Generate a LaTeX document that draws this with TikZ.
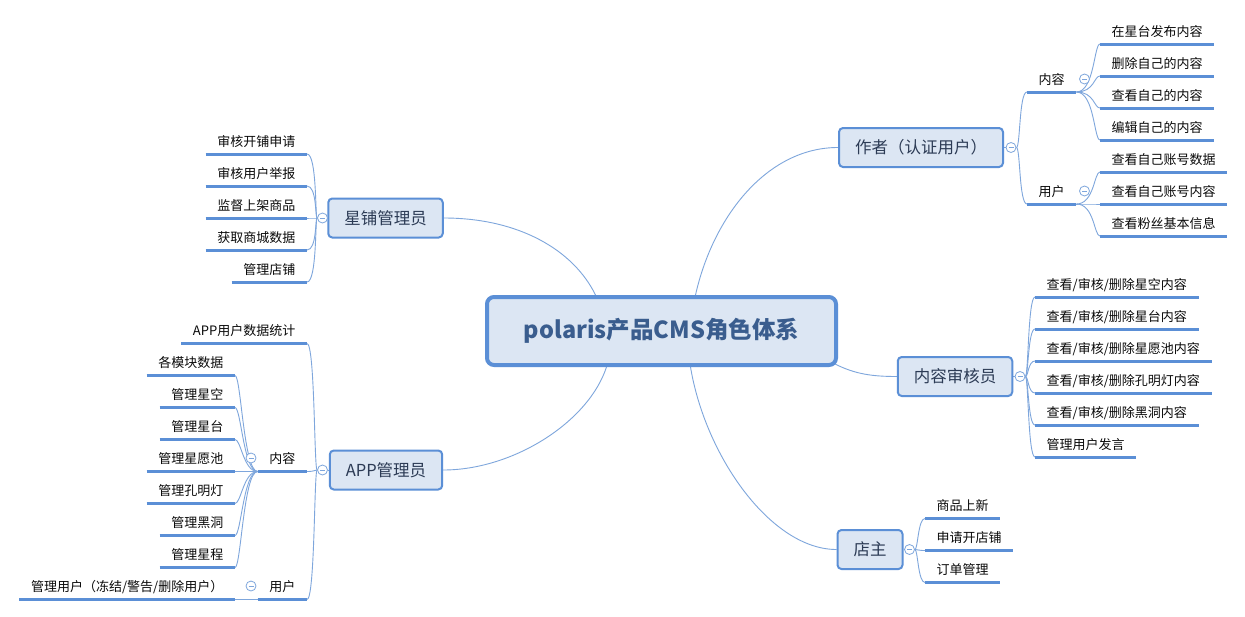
\documentclass[tikz,border=0pt]{standalone}
\usepackage{fontspec}
\setmainfont{Noto Sans CJK SC}
\usetikzlibrary{calc,backgrounds}
\definecolor{bdr}{HTML}{5B8FD6}
\definecolor{boxfill}{HTML}{DCE6F3}
\definecolor{connc}{HTML}{7EA6DC}
\definecolor{rootc}{HTML}{3A5D8E}
\definecolor{brc}{HTML}{2C3B55}
\definecolor{leafc}{HTML}{0A0A0A}
\tikzset{
  rootbox/.style={draw=bdr, line width=4pt, fill=boxfill, rounded corners=7pt,
    minimum width=349pt, minimum height=68pt,
    font=\fontsize{23.5}{26}\selectfont\bfseries, text=rootc},
  branch/.style={draw=bdr, line width=2pt, fill=boxfill, rounded corners=4pt,
    minimum height=39pt, inner xsep=16pt,
    font=\fontsize{16.5}{18}\selectfont, text=brc},
  uline/.style={draw=bdr, line width=3pt},
  leaf/.style={inner xsep=11.5pt, inner ysep=5pt, text height=9.5pt, text depth=2.5pt,
    font=\fontsize{13}{15}\selectfont, text=leafc,
    append after command={(\tikzlastnode.south west) edge[uline] (\tikzlastnode.south east)}},
  conn/.style={draw=connc, line width=0.9pt},
  coll/.style={circle, draw=connc, fill=white, line width=0.8pt, minimum size=10pt, inner sep=0pt,
    path picture={\draw[connc, line width=0.7pt] ([xshift=2.5pt]path picture bounding box.west) -- ([xshift=-2.5pt]path picture bounding box.east);}},
}
\begin{document}
\begin{tikzpicture}[x=1pt,y=-1pt]
\useasboundingbox (0,0) rectangle (1245,616);

% root and branches
\node[rootbox] (root) at (661.5,331) {polaris产品CMS角色体系};
\node[branch] (zz) at (921,147.5) {作者（认证用户）};
\node[branch] (sh) at (955,376.5) {内容审核员};
\node[branch] (dz) at (870,549.5) {店主};
\node[branch] (xp) at (385.5,218) {星铺管理员};
\node[branch] (app) at (386,470) {APP管理员};

% collapse buttons
\node[coll] (zzc) at (1011,147.5) {};
\node[coll] (shc) at (1020,376.5) {};
\node[coll] (dzc) at (909.5,549.5) {};
\node[coll] (xpc) at (322.5,218) {};
\node[coll] (appc) at (322.5,470) {};

% author
\node[leaf, anchor=south west] (zz1) at (1027,92) {内容};
\node[leaf, anchor=south west] (zz2) at (1027,204) {用户};
\node[coll] (zz1c) at (1084.5,79) {};
\node[coll] (zz2c) at (1084.5,191) {};
\node[leaf, anchor=south west] (a1) at (1100,44) {在星台发布内容};
\node[leaf, anchor=south west] (a2) at (1100,76) {删除自己的内容};
\node[leaf, anchor=south west] (a3) at (1100,108) {查看自己的内容};
\node[leaf, anchor=south west] (a4) at (1100,140) {编辑自己的内容};
\node[leaf, anchor=south west] (b1) at (1100,172) {查看自己账号数据};
\node[leaf, anchor=south west] (b2) at (1100,204) {查看自己账号内容};
\node[leaf, anchor=south west] (b3) at (1100,236) {查看粉丝基本信息};

% reviewer
\node[leaf, anchor=south west] (s1) at (1035,297) {查看/审核/删除星空内容};
\node[leaf, anchor=south west] (s2) at (1035,329) {查看/审核/删除星台内容};
\node[leaf, anchor=south west] (s3) at (1035,361) {查看/审核/删除星愿池内容};
\node[leaf, anchor=south west] (s4) at (1035,393) {查看/审核/删除孔明灯内容};
\node[leaf, anchor=south west] (s5) at (1035,425) {查看/审核/删除黑洞内容};
\node[leaf, anchor=south west] (s6) at (1035,457) {管理用户发言};

% shop owner
\node[leaf, anchor=south west] (d1) at (925,518.5) {商品上新};
\node[leaf, anchor=south west] (d2) at (925,550.5) {申请开店铺};
\node[leaf, anchor=south west] (d3) at (925,582.5) {订单管理};

% star shop admin
\node[leaf, anchor=south east] (x1) at (307,154) {审核开铺申请};
\node[leaf, anchor=south east] (x2) at (307,186) {审核用户举报};
\node[leaf, anchor=south east] (x3) at (307,218) {监督上架商品};
\node[leaf, anchor=south east] (x4) at (307,250) {获取商城数据};
\node[leaf, anchor=south east] (x5) at (307,282) {管理店铺};

% app admin
\node[leaf, anchor=south east] (p0) at (307,343.5) {APP用户数据统计};
\node[leaf, anchor=south east] (p1) at (307,471.5) {内容};
\node[leaf, anchor=south east] (p2) at (307,599.5) {用户};
\node[coll] (p1c) at (251,458) {};
\node[coll] (p2c) at (251,586) {};
\node[leaf, anchor=south east] (q1) at (235,375.5) {各模块数据};
\node[leaf, anchor=south east] (q2) at (235,407.5) {管理星空};
\node[leaf, anchor=south east] (q3) at (235,439.5) {管理星台};
\node[leaf, anchor=south east] (q4) at (235,471.5) {管理星愿池};
\node[leaf, anchor=south east] (q5) at (235,503.5) {管理孔明灯};
\node[leaf, anchor=south east] (q6) at (235,535.5) {管理黑洞};
\node[leaf, anchor=south east] (q7) at (235,567.5) {管理星程};
\node[leaf, anchor=south east] (r1) at (235,599.5) {管理用户（冻结/警告/删除用户）};

\begin{scope}[on background layer]
\fill[white] (0,0) rectangle (1245,616);
% main connectors
\draw[conn] (xp.east) .. controls +(75,0) and +(-22,-45) .. ([xshift=-66pt]root.north);
\draw[conn] ([xshift=34pt]root.north) .. controls +(18,-80) and +(-70,0) .. (zz.west);
\draw[conn] ([xshift=-3pt,yshift=3pt]root.south east) .. controls +(20,10) and +(-25,0) .. (sh.west);
\draw[conn] ([xshift=29pt]root.south) .. controls +(15,90) and +(-65,0) .. (dz.west);
\draw[conn] ([xshift=-55pt]root.south) .. controls +(-18,55) and +(70,0) .. (app.east);
% author
\draw[conn] (zz.east) -- (zzc.west);
\foreach \n in {zz1,zz2}
  \draw[conn] (zzc.east) .. controls +(4,0) and +(-8,0) .. (\n.south west);
\foreach \n in {a1,a2,a3,a4}
  \draw[conn] (zz1.south east) .. controls +(18,0) and +(-6,0) .. (\n.south west);
\foreach \n in {b1,b2,b3}
  \draw[conn] (zz2.south east) .. controls +(18,0) and +(-6,0) .. (\n.south west);
% reviewer
\draw[conn] (sh.east) -- (shc.west);
\foreach \n in {s1,s2,s3,s4,s5,s6}
  \draw[conn] (shc.east) .. controls +(3,0) and +(-7,0) .. (\n.south west);
% shop owner
\draw[conn] (dz.east) -- (dzc.west);
\foreach \n in {d1,d2,d3}
  \draw[conn] (dzc.east) .. controls +(3,0) and +(-7,0) .. (\n.south west);
% star shop admin
\draw[conn] (xp.west) -- (xpc.east);
\foreach \n in {x1,x2,x3,x4,x5}
  \draw[conn] (xpc.west) .. controls +(-2,0) and +(10,0) .. (\n.south east);
% app admin
\draw[conn] (app.west) -- (appc.east);
\foreach \n in {p0,p1,p2}
  \draw[conn] (appc.west) .. controls +(-3,0) and +(8,0) .. (\n.south east);
\foreach \n in {q1,q2,q3,q4,q5,q6,q7}
  \draw[conn] (p1.south west) .. controls +(-14,0) and +(6,0) .. (\n.south east);
\draw[conn] (p2.south west) -- (r1.south east);
\end{scope}
\end{tikzpicture}
\end{document}
